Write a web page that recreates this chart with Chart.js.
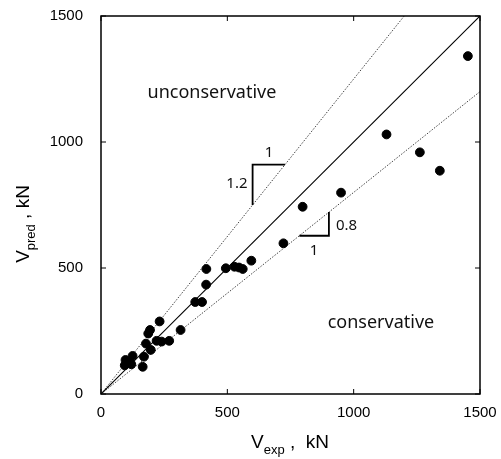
<!DOCTYPE html>
<html><head><meta charset="utf-8">
<script src="https://cdn.jsdelivr.net/npm/chart.js@4"></script>
<style>html,body{margin:0;padding:0;background:#fff}#wrap{width:501px;height:459px}</style>
</head><body><div id="wrap"><canvas id="c" width="501" height="459"></canvas></div>
<script>
const vExp  = [1452,1130,1262,1341,950,798,722,595,561,546,528,494,417,416,400,373,315,232,194,187,270,240,220,197,178,170,165,125,120,108,97,94];
const vPred = [1341,1030,959,886,799,743,598,529,496,502,505,499,496,434,365,365,254,288,254,240,211,208,211,175,200,148,108,151,118,128,135,114];
const tickValues = [0,500,1000,1500];
const refSlopes = [1, 1.25, 0.8];
const axisMax = 1500;

const points = vExp.map((x,i)=>({x:x,y:vPred[i]}));
const lineData = s => { const xe = Math.min(axisMax, axisMax/s); return [{x:0,y:0},{x:xe,y:xe*s}]; };

const overlay = {
  id:'overlay',
  afterDraw(chart){
    const ctx = chart.ctx, xs = chart.scales.x, ys = chart.scales.y, a = chart.chartArea;
    const X = v=>xs.getPixelForValue(v), Y = v=>ys.getPixelForValue(v);
    ctx.save();
    ctx.strokeStyle = '#000'; ctx.lineWidth = 1.5;
    ctx.strokeRect(a.left, a.top, a.right-a.left, a.bottom-a.top);
    ctx.lineWidth = 1;
    ctx.beginPath();
    tickValues.forEach(v=>{
      const px = X(v), py = Y(v);
      ctx.moveTo(px, a.bottom); ctx.lineTo(px, a.bottom-5);
      ctx.moveTo(px, a.top); ctx.lineTo(px, a.top+5);
      ctx.moveTo(a.left, py); ctx.lineTo(a.left+5, py);
      ctx.moveTo(a.right, py); ctx.lineTo(a.right-5, py);
    });
    ctx.stroke();
    ctx.lineWidth = 1.8;
    ctx.beginPath();
    ctx.moveTo(X(600), Y(750)); ctx.lineTo(X(600), Y(910)); ctx.lineTo(X(728), Y(910));
    ctx.moveTo(X(785), Y(628)); ctx.lineTo(X(902), Y(628)); ctx.lineTo(X(902), Y(722));
    ctx.stroke();
    ctx.fillStyle = '#111';
    ctx.textAlign = 'center'; ctx.textBaseline = 'middle';
    ctx.font = '18px "Noto Sans"';
    ctx.fillText('unconservative', X(439), Y(1194));
    ctx.fillText('conservative', X(1108), Y(282));
    ctx.font = '15px "Noto Sans"';
    ctx.fillText('1', X(665), Y(956));
    ctx.fillText('1.2', X(538), Y(833));
    ctx.fillText('0.8', X(972), Y(667));
    ctx.fillText('1', X(843), Y(567));
    const main = '19px "Liberation Sans"', sub = '13px "Liberation Sans"';
    const parts = (base, s, rest) => [[base, main, 0],[s, sub, 6],[rest, main, 0]];
    function drawTitle(pp, cx, cy, rot){
      ctx.save();
      ctx.translate(cx, cy); ctx.rotate(rot);
      ctx.textAlign = 'left'; ctx.textBaseline = 'alphabetic'; ctx.fillStyle = '#000';
      let w = 0; pp.forEach(p=>{ctx.font=p[1]; w += ctx.measureText(p[0]).width;});
      let x = -w/2;
      pp.forEach(p=>{ctx.font=p[1]; ctx.fillText(p[0], x, 7+p[2]); x += ctx.measureText(p[0]).width;});
      ctx.restore();
    }
    drawTitle(parts('V','exp',' ,  kN'), 290, 441, 0);
    drawTitle(parts('V','pred',' , kN'), 22, 224, -Math.PI/2);
    ctx.restore();
  }
};

const tickFont = { family:'Liberation Sans, Arial, sans-serif', size:15 };
new Chart(document.getElementById('c'), {
  type:'scatter',
  data:{ datasets:[
    { data: points, backgroundColor:'#000', borderColor:'#000', pointRadius:4.4, pointHoverRadius:4.4, order:0 },
    { data: lineData(refSlopes[0]), showLine:true, borderColor:'#000', borderWidth:1.1, pointRadius:0, order:1 },
    { data: lineData(refSlopes[1]), showLine:true, borderColor:'#444', borderWidth:1, borderDash:[1.5,1.5], pointRadius:0, order:1 },
    { data: lineData(refSlopes[2]), showLine:true, borderColor:'#444', borderWidth:1, borderDash:[1.5,1.5], pointRadius:0, order:1 }
  ]},
  options:{
    responsive:false, animation:false, devicePixelRatio:1,
    layout:{ padding:{ top:16, right:21, left:0, bottom:0 } },
    plugins:{ legend:{display:false}, tooltip:{enabled:false} },
    scales:{
      x:{ type:'linear', min:0, max:axisMax,
          afterFit(s){ s.height = 65; s.paddingLeft = 0; s.paddingRight = 0; },
          afterBuildTicks(s){ s.ticks = tickValues.map(v=>({value:v})); },
          grid:{ display:false, drawTicks:false }, border:{display:false},
          ticks:{ padding:10, color:'#000', font:tickFont, maxRotation:0, callback:v=>String(v) } },
      y:{ type:'linear', min:0, max:axisMax,
          afterFit(s){ s.width = 101; s.paddingTop = 0; s.paddingBottom = 0; },
          afterBuildTicks(s){ s.ticks = tickValues.map(v=>({value:v})); },
          grid:{ display:false, drawTicks:false }, border:{display:false},
          ticks:{ padding:18, color:'#000', font:tickFont, callback:v=>String(v) } }
    }
  },
  plugins:[overlay]
});
</script>
</body></html>
